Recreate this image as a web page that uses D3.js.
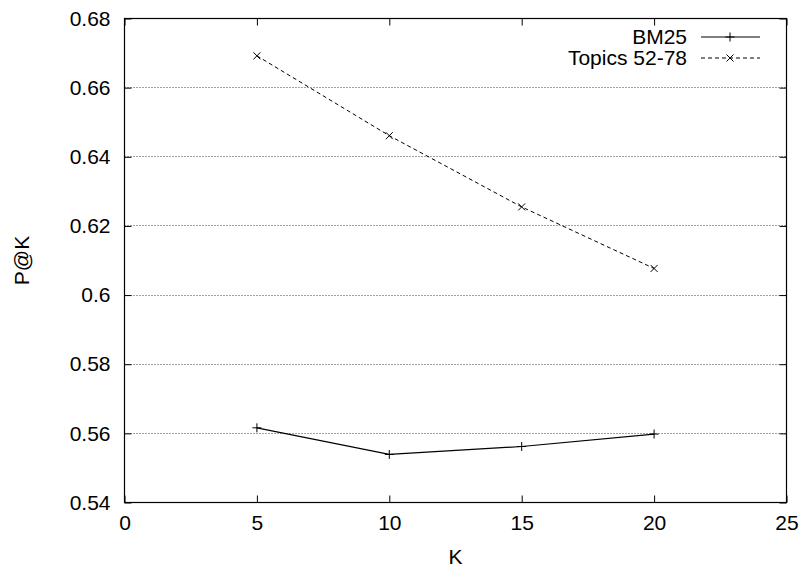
<!DOCTYPE html>
<html lang="en">
<head>
<meta charset="UTF-8" />
<title>P@K vs K</title>
<style>
  body { margin: 0; background: #fff; }
  svg { display: block; }
  text { font-family: "Liberation Sans", Arial, Helvetica, sans-serif; font-size: 21px; fill: #000; }
  .axis path.domain { display: none; }
  .axis line { stroke: #000; stroke-width: 1; }
  .grid line { stroke: #444; stroke-width: 1; stroke-dasharray: 1,2; }
</style>
</head>
<body>
<svg width="804" height="569"></svg>
<script src="https://d3js.org/d3.v7.min.js"></script>
<script>
  // data
  const kValues = [5, 10, 15, 20];
  const bm25 = [0.5616, 0.5539, 0.5562, 0.5598];
  const topics = [0.6692, 0.6461, 0.6255, 0.6077];
  const seriesNames = ["BM25", "Topics 52-78"];
  const xTicks = [0, 5, 10, 15, 20, 25];
  const yTicks = [0.54, 0.56, 0.58, 0.6, 0.62, 0.64, 0.66, 0.68];

  const svg = d3.select("svg"),
    width = 804,
    height = 569;
  const margin = { top: 18.5, right: 17.5, bottom: 66.5, left: 124.5 };
  const w = width - margin.left - margin.right,
    h = height - margin.top - margin.bottom;

  const x = d3.scaleLinear().domain([0, 25]).range([0, w]);
  const y = d3.scaleLinear().domain([0.54, 0.68]).range([h, 0]);

  const g = svg.append("g").attr("transform", `translate(${margin.left},${margin.top})`);

  // dotted horizontal grid
  g.append("g")
    .attr("class", "grid")
    .selectAll("line")
    .data(yTicks.slice(1, -1))
    .join("line")
    .attr("x1", 0)
    .attr("x2", w)
    .attr("y1", d => Math.round(y(d)) + 0.5 - 0.5)
    .attr("y2", d => Math.round(y(d)) + 0.5 - 0.5);

  const fmtY = d => String(+d.toFixed(2));

  // axes, ticks pointing inwards like gnuplot, mirrored on top/right
  g.append("g").attr("class", "axis")
    .call(d3.axisLeft(y).tickValues(yTicks).tickFormat(fmtY).tickSize(-7).tickPadding(14));
  g.append("g").attr("class", "axis")
    .attr("transform", `translate(${w},0)`)
    .call(d3.axisRight(y).tickValues(yTicks).tickFormat("").tickSize(-7));
  g.append("g").attr("class", "axis")
    .attr("transform", `translate(0,${h})`)
    .call(d3.axisBottom(x).tickValues(xTicks).tickSize(-7).tickPadding(13));
  g.append("g").attr("class", "axis")
    .call(d3.axisTop(x).tickValues(xTicks).tickFormat("").tickSize(-7));

  g.selectAll(".axis text").style("font-size", "21px").attr("fill", "#000");

  // border
  g.append("rect")
    .attr("width", w)
    .attr("height", h)
    .attr("fill", "none")
    .attr("stroke", "#000")
    .attr("stroke-width", 1.2);

  const line = d3.line().x((d, i) => x(kValues[i])).y(d => y(d));

  const plus = (sel, s) => sel.append("path")
    .attr("d", `M${-s},0H${s}M0,${-s}V${s}`)
    .attr("stroke", "#000").attr("stroke-width", 1);
  const cross = (sel, s) => sel.append("path")
    .attr("d", `M${-s},${-s}L${s},${s}M${-s},${s}L${s},${-s}`)
    .attr("stroke", "#000").attr("stroke-width", 1);

  // BM25 series
  g.append("path")
    .datum(bm25)
    .attr("d", line)
    .attr("fill", "none")
    .attr("stroke", "#000")
    .attr("stroke-width", 1.2);
  g.append("g").selectAll("g")
    .data(bm25)
    .join("g")
    .attr("transform", (d, i) => `translate(${x(kValues[i])},${y(d)})`)
    .each(function () { plus(d3.select(this), 4.5); });

  // Topics series
  g.append("path")
    .datum(topics)
    .attr("d", line)
    .attr("fill", "none")
    .attr("stroke", "#000")
    .attr("stroke-width", 1)
    .attr("stroke-dasharray", "4,3");
  g.append("g").selectAll("g")
    .data(topics)
    .join("g")
    .attr("transform", (d, i) => `translate(${x(kValues[i])},${y(d)})`)
    .each(function () { cross(d3.select(this), 3.5); });

  // legend
  const legend = svg.append("g");
  const legendRows = [
    { name: seriesNames[0], y: 37, dash: null, marker: plus, size: 4.5 },
    { name: seriesNames[1], y: 58, dash: "4,3", marker: cross, size: 3.5 }
  ];
  legendRows.forEach(r => {
    legend.append("text")
      .attr("x", 687)
      .attr("y", r.y)
      .attr("dy", "0.35em")
      .attr("text-anchor", "end")
      .text(r.name);
    legend.append("line")
      .attr("x1", 701).attr("x2", 760)
      .attr("y1", r.y).attr("y2", r.y)
      .attr("stroke", "#000")
      .attr("stroke-width", 1)
      .attr("stroke-dasharray", r.dash);
    r.marker(legend.append("g").attr("transform", `translate(730,${r.y})`), r.size);
  });

  // axis titles
  svg.append("text")
    .attr("x", margin.left + w / 2)
    .attr("y", 564)
    .attr("text-anchor", "middle")
    .text("K");
  svg.append("text")
    .attr("transform", `translate(29,${margin.top + h / 2}) rotate(-90)`)
    .attr("text-anchor", "middle")
    .text("P@K");
</script>
</body>
</html>
